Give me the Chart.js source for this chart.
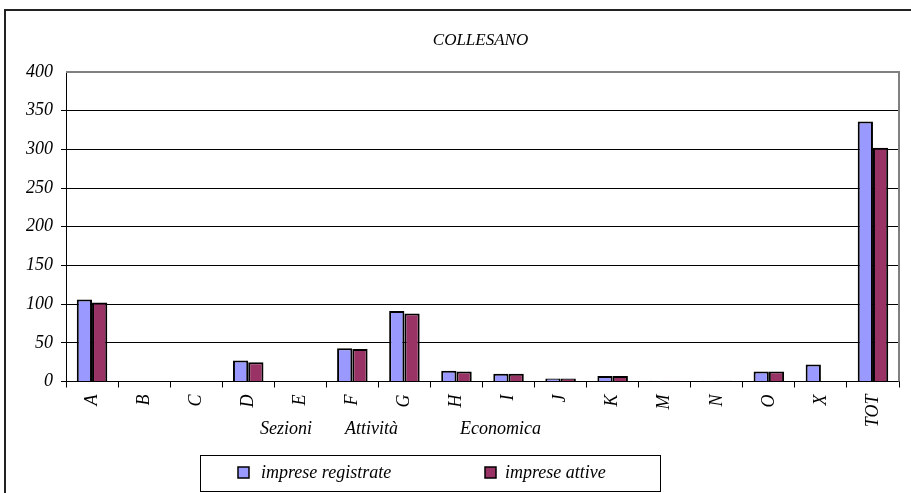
<!DOCTYPE html>
<html>
<head>
<meta charset="utf-8">
<script src="https://cdn.jsdelivr.net/npm/chart.js@4/dist/chart.umd.min.js"></script>
<style>
html,body{margin:0;padding:0;background:#fff;}
canvas{display:block;}
</style>
</head>
<body>
<canvas id="c" width="911" height="493"></canvas>
<script>
const chartTitle = 'COLLESANO';
const categories = ['A','B','C','D','E','F','G','H','I','J','K','M','N','O','X','TOT'];
const impreseRegistrate = [106,0,0,27,0,43,91,14,10,4,7,1,1,13,22,336];
const impreseAttive = [102,0,0,25,0,42,88,13,10,4,7,1,1,13,0,302];
const seriesNames = ['imprese registrate','imprese attive'];
const seriesColors = ['#9999FF','#993366'];
const xAxisWords = ['Sezioni','Attività','Economica'];
const yTicks = [0,50,100,150,200,250,300,350,400];

const FONT = "'Liberation Serif', 'Times New Roman', serif";

const decor = {
  id: 'decor',
  beforeDraw(chart) {
    const c = chart.ctx;
    c.save();
    c.fillStyle = '#fff';
    c.fillRect(0, 0, chart.width, chart.height);
    c.strokeStyle = '#222';
    c.lineWidth = 2;
    c.beginPath();
    c.moveTo(5, 500); c.lineTo(5, 10); c.lineTo(920, 10);
    c.stroke();
    c.restore();
  },
  beforeDatasetsDraw(chart) {
    const c = chart.ctx, a = chart.chartArea;
    c.save();
    c.strokeStyle = '#808080';
    c.lineWidth = 2;
    c.beginPath();
    c.moveTo(a.left, a.top); c.lineTo(a.right, a.top); c.lineTo(a.right, a.bottom);
    c.stroke();
    c.restore();
  },
  afterDraw(chart) {
    const c = chart.ctx, a = chart.chartArea;
    c.save();
    c.fillStyle = '#000';
    c.font = 'italic 17px ' + FONT;
    c.textAlign = 'center';
    c.textBaseline = 'middle';
    c.fillText(chartTitle, (a.left + a.right) / 2 - 2, 41);
    c.font = 'italic 18px ' + FONT;
    c.textAlign = 'left';
    const offs = [194, 279, 394];
    xAxisWords.forEach((w, i) => c.fillText(w, a.left + offs[i], 429));
    c.strokeStyle = '#000';
    c.lineWidth = 1;
    c.strokeRect(200.5, 455.5, 460, 36);
    const items = [{bx: 238, tx: 261}, {bx: 485, tx: 505}];
    items.forEach((it, i) => {
      c.fillStyle = seriesColors[i];
      c.fillRect(it.bx, 467, 11, 11);
      c.strokeStyle = '#000';
      c.lineWidth = 1.5;
      c.strokeRect(it.bx, 467, 11, 11);
      c.fillStyle = '#000';
      c.fillText(seriesNames[i], it.tx, 473);
    });
    c.restore();
  }
};

new Chart(document.getElementById('c'), {
  type: 'bar',
  data: {
    labels: categories,
    datasets: [
      {label: seriesNames[0], data: impreseRegistrate, backgroundColor: seriesColors[0], borderColor: '#000', borderWidth: 2,
       categoryPercentage: 0.586, barPercentage: 1},
      {label: seriesNames[1], data: impreseAttive, backgroundColor: seriesColors[1], borderColor: '#000', borderWidth: 2,
       categoryPercentage: 0.586, barPercentage: 1}
    ]
  },
  options: {
    responsive: false,
    animation: false,
    devicePixelRatio: 1,
    layout: {padding: {left: 0, right: 12, top: 72, bottom: 0}},
    plugins: {legend: {display: false}, title: {display: false}, tooltip: {enabled: false}},
    scales: {
      x: {
        offset: true,
        grid: {offset: true, drawOnChartArea: false, color: '#000', tickLength: 6, lineWidth: 1},
        border: {color: '#000', width: 1},
        ticks: {maxRotation: 90, minRotation: 90, autoSkip: false, color: '#000', padding: 7,
                font: {family: FONT, size: 18, style: 'italic'}},
        afterFit(s) { s.height = 111.5; }
      },
      y: {
        min: 0, max: 400,
        afterBuildTicks(s) { s.ticks = yTicks.map(v => ({value: v})); },
        grid: {color: (ctx) => (ctx.tick && ctx.tick.value === 400) ? 'rgba(0,0,0,0)' : '#000', lineWidth: 1, tickLength: 5},
        border: {color: '#000', width: 1},
        ticks: {color: '#000', padding: 8, font: {family: FONT, size: 18, style: 'italic'}},
        afterFit(s) { s.width = 66; }
      }
    }
  },
  plugins: [decor]
});
</script>
</body>
</html>
